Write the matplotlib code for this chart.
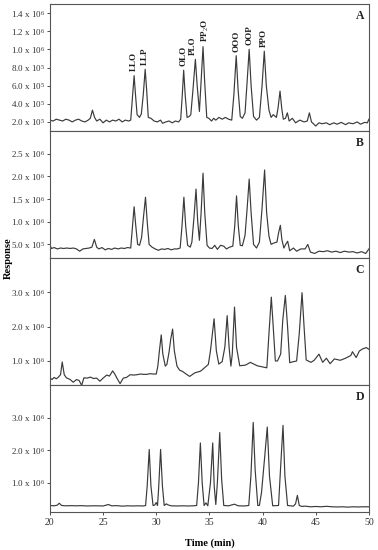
import numpy as np
import matplotlib
matplotlib.use("Agg")
import matplotlib.pyplot as plt
from matplotlib.ticker import FixedLocator, FuncFormatter

plt.rcParams['font.family'] = ['Liberation Serif', 'DejaVu Serif']
plt.rcParams['mathtext.fontset'] = 'custom'
plt.rcParams['mathtext.rm'] = 'Liberation Serif'
plt.rcParams['mathtext.it'] = 'Liberation Serif:italic'
plt.rcParams['mathtext.bf'] = 'Liberation Serif:bold'

# Chromatogram traces (time in min, response in units of 1e5)
time_a = [20.0, 20.3, 20.6, 20.9, 21.2, 21.5, 21.8, 22.1, 22.4, 22.7, 23.0, 23.3, 23.6, 23.8, 24.0, 24.2,
          24.4, 24.7, 25.0, 25.3, 25.6, 25.9, 26.2, 26.5, 26.8, 27.1, 27.4, 27.6, 27.75, 27.92, 28.05, 28.2,
          28.43, 28.6, 28.78, 28.96, 29.1, 29.25, 29.5, 29.8, 30.1, 30.4, 30.6, 30.9, 31.2, 31.5, 31.8, 32.1,
          32.3, 32.45, 32.58, 32.72, 32.9, 33.1, 33.25, 33.45, 33.68, 33.85, 34.06, 34.22, 34.4, 34.55, 34.75,
          34.95, 35.2, 35.4, 35.6, 35.9, 36.2, 36.5, 36.8, 37.1, 37.3, 37.52, 37.7, 37.9, 38.1, 38.35, 38.55,
          38.74, 38.92, 39.15, 39.43, 39.7, 39.95, 40.16, 40.35, 40.6, 40.8, 41.0, 41.3, 41.45, 41.64, 41.8,
          41.95, 42.15, 42.33, 42.5, 42.8, 43.1, 43.5, 43.9, 44.2, 44.4, 44.6, 45.0, 45.3, 45.6, 46.0, 46.3,
          46.7, 47.0, 47.4, 47.8, 48.1, 48.5, 48.9, 49.2, 49.6, 49.85, 50.0]
resp_a = [2.2, 2.1, 2.3, 2.2, 2.1, 2.3, 2.2, 2.0, 2.2, 2.3, 2.1, 2.0, 2.2, 2.4, 3.3, 2.5,
          2.1, 2.3, 1.9, 2.2, 2.0, 2.2, 2.1, 2.3, 2.0, 2.2, 2.1, 2.2, 4.5, 7.1, 5.0, 2.8,
          2.5, 2.9, 5.0, 7.8, 5.5, 2.5, 2.4, 2.1, 2.0, 2.2, 1.85, 2.0, 2.1, 1.9, 2.1, 2.0,
          2.3, 5.0, 7.7, 5.0, 2.5, 2.6, 2.8, 5.5, 8.9, 6.0, 3.15, 6.5, 10.3, 6.5, 2.5,
          2.4, 2.1, 2.4, 2.2, 2.5, 2.3, 2.5, 2.3, 2.2, 5.0, 9.3, 5.5, 2.6, 2.4, 3.0, 6.5,
          10.0, 6.0, 2.6, 2.2, 2.5, 6.0, 9.8, 6.0, 3.3, 2.5, 2.8, 2.5, 3.5, 5.4, 3.5,
          2.3, 2.4, 3.0, 2.1, 2.4, 1.9, 2.2, 2.0, 2.1, 3.0, 2.0, 1.55, 1.9, 1.8, 1.9, 1.7,
          1.9, 1.75, 1.95, 1.7, 1.9, 1.8, 2.0, 1.75, 1.95, 1.9, 2.3]

time_b = [20.0, 20.15, 20.4, 20.7, 21.0, 21.3, 21.6, 21.9, 22.2, 22.5, 22.8, 23.1, 23.4, 23.7, 23.95, 24.18,
          24.4, 24.6, 24.9, 25.2, 25.5, 25.8, 26.1, 26.4, 26.7, 27.0, 27.3, 27.6, 27.75, 27.92, 28.08, 28.25,
          28.43, 28.62, 28.8, 28.99, 29.15, 29.33, 29.6, 29.9, 30.2, 30.5, 30.8, 31.1, 31.4, 31.7, 32.0, 32.25,
          32.42, 32.6, 32.77, 32.95, 33.2, 33.35, 33.55, 33.74, 33.9, 34.06, 34.22, 34.4, 34.56, 34.78, 35.0,
          35.25, 35.5, 35.75, 36.05, 36.35, 36.6, 36.9, 37.2, 37.38, 37.55, 37.72, 37.9, 38.1, 38.35, 38.55,
          38.74, 38.92, 39.15, 39.43, 39.7, 39.95, 40.19, 40.38, 40.6, 40.8, 41.05, 41.35, 41.5, 41.67, 41.82,
          42.0, 42.17, 42.36, 42.55, 42.9, 43.2, 43.6, 44.0, 44.25, 44.5, 44.9, 45.3, 45.7, 46.1, 46.5, 46.9,
          47.3, 47.7, 48.1, 48.5, 48.9, 49.3, 49.7, 50.0]
resp_b = [4.8, 4.1, 4.3, 4.0, 4.2, 4.1, 4.2, 4.1, 4.2, 4.0, 3.5, 4.0, 4.1, 4.2, 4.4, 6.1,
          4.4, 4.0, 4.3, 3.8, 4.1, 3.9, 4.2, 4.0, 4.2, 4.1, 4.3, 4.2, 8.5, 13.3, 9.0, 5.0,
          4.8, 6.5, 11.0, 15.4, 10.0, 5.0, 4.4, 4.0, 3.7, 4.0, 3.9, 4.1, 3.8, 4.0, 4.0, 4.2,
          9.0, 15.4, 9.0, 4.8, 4.4, 5.5, 11.0, 17.2, 10.0, 5.9, 12.0, 20.7, 12.0, 4.8, 4.2,
          4.1, 4.8, 3.9, 4.8, 4.6, 4.0, 4.4, 4.6, 9.0, 15.7, 9.0, 4.8, 4.7, 7.0, 13.0,
          19.4, 12.0, 5.0, 4.2, 5.5, 13.0, 21.4, 12.0, 6.8, 5.0, 5.3, 5.5, 7.5, 9.2, 6.0,
          4.2, 5.0, 5.7, 3.6, 4.2, 3.5, 4.0, 4.0, 5.0, 3.3, 3.0, 3.5, 3.4, 3.6, 3.3, 3.5,
          3.2, 3.5, 3.3, 3.4, 3.1, 3.4, 3.0, 4.0]

time_c = [20.0, 20.2, 20.4, 20.6, 20.8, 21.0, 21.16, 21.35, 21.55, 21.9, 22.2, 22.5, 22.75, 22.99, 23.2,
          23.5, 23.8, 24.1, 24.4, 24.7, 25.0, 25.35, 25.6, 25.9, 26.1, 26.3, 26.6, 26.9, 27.2, 27.55, 27.9,
          28.2, 28.5, 28.8, 29.1, 29.45, 29.7, 30.0, 30.15, 30.3, 30.47, 30.62, 30.85, 31.0, 31.2, 31.37,
          31.54, 31.7, 31.95, 32.2, 32.45, 32.9, 33.15, 33.6, 33.9, 34.15, 34.35, 34.9, 35.1, 35.44, 35.65,
          35.88, 36.2, 36.45, 36.67, 36.85, 37.02, 37.15, 37.36, 37.55, 37.85, 38.4, 38.85, 39.5, 40.1, 40.4,
          40.6, 40.82, 41.0, 41.2, 41.4, 41.7, 41.9, 42.14, 42.35, 42.55, 42.9, 43.2, 43.45, 43.71, 43.9,
          44.1, 44.55, 44.85, 45.1, 45.3, 45.65, 46.0, 46.35, 46.75, 47.3, 47.8, 48.3, 48.45, 48.8, 49.1,
          49.4, 49.75, 50.0]
resp_c = [5.1, 4.6, 5.2, 4.8, 5.3, 6.0, 9.7, 6.0, 5.1, 4.6, 3.8, 4.6, 4.3, 2.9, 5.1,
          5.0, 5.3, 4.9, 5.0, 4.1, 5.0, 5.9, 5.6, 7.1, 6.2, 5.0, 3.4, 5.0, 5.2, 6.0, 5.9,
          6.0, 6.2, 6.1, 6.1, 6.3, 6.2, 6.2, 8.5, 13.0, 17.6, 12.0, 8.5, 9.0, 12.5, 16.5,
          19.3, 13.0, 8.5, 7.3, 7.0, 6.0, 5.5, 6.5, 6.8, 7.0, 7.5, 9.0, 13.0, 22.3, 13.0,
          9.1, 9.8, 14.0, 23.2, 14.0, 8.5, 12.0, 25.7, 14.0, 8.6, 8.8, 9.6, 8.6, 8.2, 8.0,
          18.0, 28.6, 20.0, 10.0, 10.0, 12.0, 22.0, 29.1, 20.0, 9.5, 9.8, 10.0, 18.0, 29.9, 20.0,
          10.3, 9.6, 10.2, 11.2, 12.0, 9.6, 10.8, 9.2, 10.6, 10.2, 10.8, 11.6, 12.7, 11.0, 12.9,
          13.5, 13.9, 13.4]

time_d = [20.0, 20.4, 20.7, 20.88, 21.1, 21.5, 22.0, 22.5, 23.0, 23.5, 24.0, 24.5, 25.0, 25.5, 25.8,
          26.3, 26.8, 27.3, 27.8, 28.3, 28.8, 29.0, 29.15, 29.34, 29.5, 29.7, 29.85, 30.0, 30.12, 30.22,
          30.41, 30.58, 30.75, 30.95, 31.1, 31.4, 32.0, 32.5, 33.0, 33.5, 33.8, 33.97, 34.15, 34.32, 34.5,
          34.68, 34.85, 35.1, 35.31, 35.45, 35.6, 35.75, 35.97, 36.15, 36.35, 36.8, 37.35, 37.7, 38.3, 38.7,
          38.9, 39.12, 39.3, 39.55, 39.7, 39.9, 40.2, 40.44, 40.65, 40.95, 41.5, 41.7, 41.92, 42.1, 42.35,
          42.9, 43.1, 43.27, 43.45, 43.7, 44.0, 44.5, 45.0, 45.5, 46.0, 46.5, 47.0, 47.5, 48.0, 48.5,
          49.0, 49.5, 50.0]
resp_d = [3.0, 2.9, 3.1, 3.7, 3.0, 2.9, 2.95, 2.9, 2.95, 2.85, 2.9, 2.9, 2.85, 3.3, 2.9,
          2.95, 2.8, 2.9, 2.85, 2.9, 2.85, 3.0, 9.0, 20.2, 9.0, 3.0, 3.1, 3.9, 3.0, 8.0,
          20.2, 9.0, 3.0, 3.5, 3.2, 2.9, 2.85, 2.9, 2.85, 2.9, 3.0, 10.0, 22.2, 10.0, 3.0,
          3.8, 2.9, 10.0, 22.2, 9.0, 3.3, 10.0, 25.4, 11.0, 3.0, 2.9, 3.4, 2.9, 2.85, 3.0,
          12.0, 28.5, 14.0, 3.0, 3.0, 7.0, 18.0, 27.1, 12.0, 2.9, 3.0, 15.0, 27.6, 12.0, 3.0,
          2.8, 3.5, 6.1, 3.0, 2.7, 2.8, 2.6, 2.7, 2.6, 2.75, 2.6, 2.55, 2.6, 2.5, 2.6,
          2.55, 2.6, 2.6]

panel_letters = ['A', 'B', 'C', 'D']
y_limits = [(1.0e5, 1.5e6), (2.0e5, 3.0e6), (3.0e5, 4.0e6), (1.0e5, 4.0e6)]
y_ticks = [[2e5, 4e5, 6e5, 8e5, 1.0e6, 1.2e6, 1.4e6],
           [5e5, 1.0e6, 1.5e6, 2.0e6, 2.5e6],
           [1e6, 2e6, 3e6],
           [1e6, 2e6, 3e6]]
x_ticks = [20, 25, 30, 35, 40, 45, 50]

peak_names = ['LLO', 'LLP', 'OLO', 'PLO', 'PP$_2$O', 'OOO', 'OOP', 'PPO']
peak_times = [27.92, 28.96, 32.58, 33.68, 34.4, 37.52, 38.74, 40.16]
# small sideways nudge (points) so the two close labels don't collide
label_nudge = [0, 0, 0, -1.5, 1.5, 0, 0, 0]


def sci_label(v, pos):
    e = int(np.floor(np.log10(v)))
    m = v / 10 ** e
    return f"{m:.1f} x 10$^{{{e}}}$"


traces = [(time_a, resp_a), (time_b, resp_b), (time_c, resp_c), (time_d, resp_d)]

fig, axes = plt.subplots(4, 1, sharex=True, figsize=(3.78, 5.5), dpi=100,
                         gridspec_kw={'hspace': 0})
fig.subplots_adjust(left=0.132, right=0.976, top=1 - 4 / 550, bottom=1 - 512 / 550)

for ax, (t, r), letter, ylim, yt in zip(axes, traces, panel_letters, y_limits, y_ticks):
    t = np.array(t)
    r = np.array(r) * 1e5
    ax.plot(t, r, color='#3a3a3a', lw=0.85)
    ax.set_xlim(20, 50)
    ax.set_ylim(*ylim)
    ax.yaxis.set_major_locator(FixedLocator(yt))
    ax.yaxis.set_major_formatter(FuncFormatter(sci_label))
    ax.tick_params(axis='y', direction='out', length=2, width=0.6, labelsize=6.5, pad=1, colors='#333333')
    ax.tick_params(axis='x', direction='out', length=2.5, width=0.6, labelsize=7, pad=2, colors='#333333')
    for s in ax.spines.values():
        s.set_color('#555555')
        s.set_linewidth(0.8)
    ax.text(0.985, 0.95, letter, transform=ax.transAxes, ha='right', va='top',
            fontsize=8.5, fontweight='bold', color='#222222')

axes[-1].xaxis.set_major_locator(FixedLocator(x_ticks))
axes[-1].set_xlabel('Time (min)', fontsize=7.5, fontweight='bold', labelpad=8)
fig.text(0.022, 0.531, 'Response', rotation=90, ha='center', va='center',
         fontsize=7.5, fontweight='bold')

# peak labels on panel A
ta = np.array(time_a)
ra = np.array(resp_a) * 1e5
for name, pt, dx in zip(peak_names, peak_times, label_nudge):
    top = np.interp(pt, ta, ra)
    axes[0].annotate(name, (pt, top), xytext=(dx, 3), textcoords='offset points',
                     rotation=90, ha='center', va='bottom', fontsize=6.5, fontweight='bold',
                     color='#222222')

fig.savefig('out.png', dpi=100)
